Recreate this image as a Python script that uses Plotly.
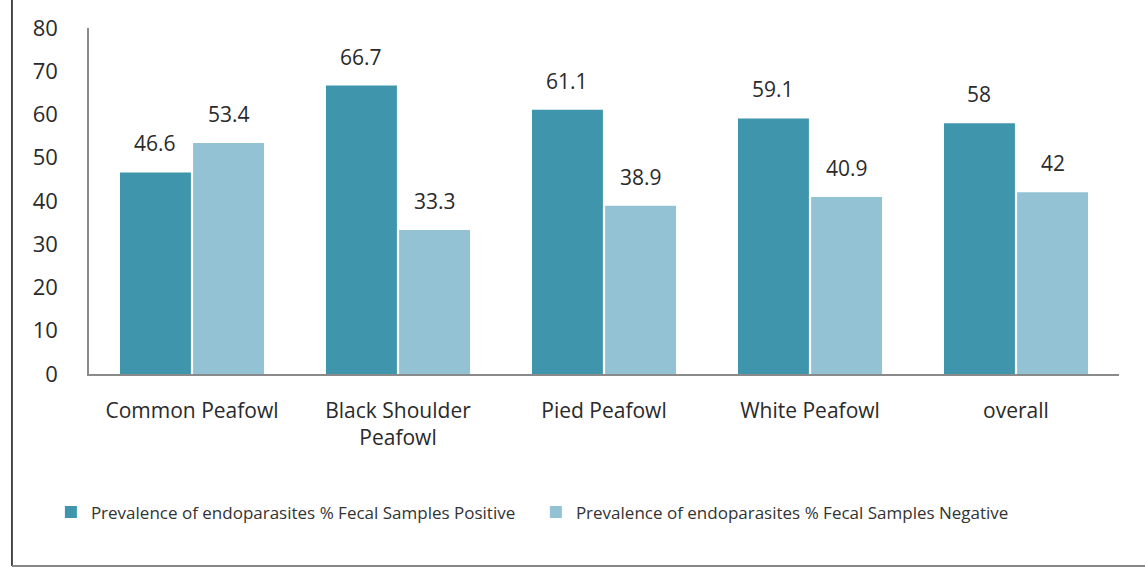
import plotly.graph_objects as go

categories = ["Common Peafowl", "Black Shoulder<br>Peafowl", "Pied Peafowl", "White Peafowl", "overall"]
positive = [46.6, 66.7, 61.1, 59.1, 58]
negative = [53.4, 33.3, 38.9, 40.9, 42]
label_pos = ["46.6", "66.7", "61.1", "59.1", "58"]
label_neg = ["53.4", "33.3", "38.9", "40.9", "42"]
series_names = ["Prevalence of endoparasites % Fecal Samples Positive",
                "Prevalence of endoparasites % Fecal Samples Negative"]
y_ticks = [0, 10, 20, 30, 40, 50, 60, 70, 80]

dark = "#3f95ac"
light = "#93c2d4"
font_family = "Open Sans, Liberation Sans, sans-serif"

fig = go.Figure()
fig.add_trace(go.Bar(x=categories, y=positive, name=series_names[0],
                     marker=dict(color=dark, line=dict(width=0))))
fig.add_trace(go.Bar(x=categories, y=negative, name=series_names[1],
                     marker=dict(color=light, line=dict(width=0))))

annotations = []
for i, c in enumerate(categories):
    for val, lab, shift in ((positive[i], label_pos[i], -37), (negative[i], label_neg[i], 37)):
        annotations.append(dict(x=c, y=val, text=lab, showarrow=False, xref="x", yref="y",
                                xshift=shift, yshift=29, yanchor="middle",
                                font=dict(size=21, color="#2a2a2a", family=font_family)))

fig.update_layout(
    width=1145, height=568,
    margin=dict(l=89, r=26, t=28, b=194),
    paper_bgcolor="white", plot_bgcolor="white",
    barmode="group", bargap=0.29, bargroupgap=0.03,
    font=dict(family=font_family, color="#2a2a2a"),
    annotations=annotations,
    showlegend=True,
    legend=dict(orientation="h", x=-0.037, y=-0.40, xanchor="left", yanchor="middle",
                font=dict(size=17, color="#333333"), itemwidth=30,
                traceorder="normal", entrywidth=440),
    shapes=[
        dict(type="line", xref="paper", yref="paper", x0=-0.0748, x1=-0.0748, y0=-0.555, y1=1.09,
             line=dict(color="#111111", width=1.5)),
        dict(type="line", xref="paper", yref="paper", x0=-0.0748, x1=1.03, y0=-0.555, y1=-0.555,
             line=dict(color="#888888", width=2)),
    ],
)
fig.update_xaxes(showline=True, linecolor="#8a8a8a", linewidth=1.5, ticks="",
                 tickfont=dict(size=21, color="#2a2a2a"), ticklabelstandoff=17,
                 showgrid=False)
fig.update_yaxes(range=[0, 80], tickvals=y_ticks, showline=True, linecolor="#8a8a8a",
                 linewidth=1.5, showgrid=False, zeroline=False, ticks="",
                 tickfont=dict(size=22, color="#2a2a2a"), ticklabelstandoff=25)

fig.write_html("out.html")
